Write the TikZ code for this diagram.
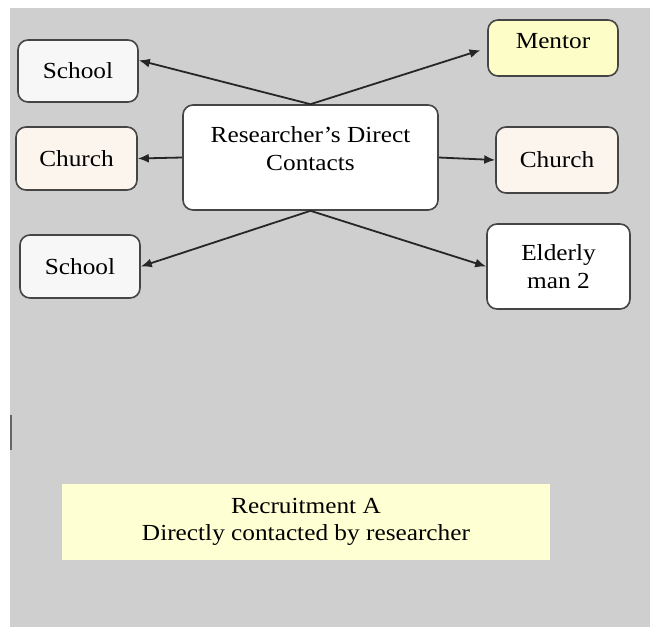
\documentclass[tikz,border=0pt]{standalone}
\usepackage{fontspec}
\setmainfont{Liberation Serif}[FakeStretch=1.1]
\usetikzlibrary{arrows.meta,calc}
\definecolor{bggray}{HTML}{D0CFD0}
\definecolor{edgegray}{HTML}{454545}
\definecolor{schoolfill}{HTML}{F7F7F7}
\definecolor{churchfill}{HTML}{FCF5EE}
\definecolor{mentorfill}{HTML}{FDFDC8}
\definecolor{notefill}{HTML}{FFFFD4}
\tikzset{
  box/.style={draw=edgegray, line width=1.6pt, rounded corners=10pt, align=center,
    font=\fontsize{23}{28}\selectfont, inner sep=0pt},
  conn/.style={line width=1.8pt, draw=black!85, -{Latex[length=11pt,width=9pt]}}
}
\begin{document}
\begin{tikzpicture}[x=1pt,y=-1pt]
\useasboundingbox (0,0) rectangle (650,627);
\fill[white] (0,0) rectangle (650,627);
\fill[bggray] (10,8) rectangle (650,627);
\fill[black!60] (9.5,415) rectangle (11.5,450);

\node[box, fill=schoolfill, minimum width=120pt, minimum height=62pt] (school1) at (78,71) {School};
\node[box, fill=mentorfill, minimum width=130pt, minimum height=56pt, text depth=14pt] (mentor) at (553,48) {Mentor};
\node[box, fill=white, minimum width=255pt, minimum height=105pt, text depth=18pt] (center) at (310.5,157.5) {Researcher’s Direct\\Contacts};
\node[box, fill=churchfill, minimum width=121pt, minimum height=63pt] (churchL) at (76.5,158.5) {Church};
\node[box, fill=churchfill, minimum width=122pt, minimum height=66pt] (churchR) at (557,160) {Church};
\node[box, fill=schoolfill, minimum width=120pt, minimum height=63pt] (school2) at (80,266.5) {School};
\node[box, fill=white, minimum width=143pt, minimum height=85pt] (elderly) at (558.5,266.5) {Elderly\\man 2};

\node[fill=notefill, minimum width=488pt, minimum height=76pt, align=center, inner sep=0pt,
  font=\fontsize{23}{27}\selectfont] (note) at (306,522) {Recruitment A\\Directly contacted by researcher};

\draw[conn] (center.north) -- (school1.10);
\draw[conn, shorten >=7pt] (center.north) -- (mentor.west);
\draw[conn] (center.west) -- (churchL.east);
\draw[conn] (center.east) -- (churchR.west);
\draw[conn] (center.south) -- (school2.east);
\draw[conn] (center.south) -- (elderly.west);
\end{tikzpicture}
\end{document}
